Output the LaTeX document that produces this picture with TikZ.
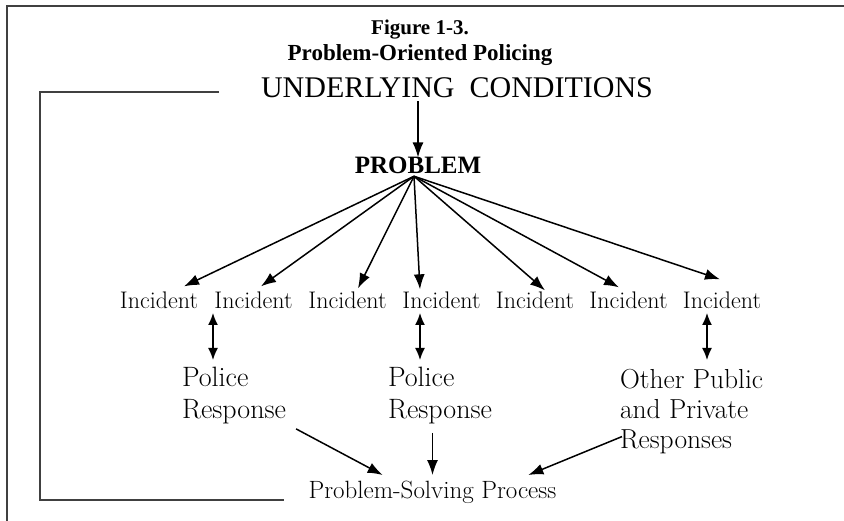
\documentclass[tikz,border=0pt]{standalone}
\usepackage{fontspec}
\newfontfamily\tms{Liberation Serif}
\usetikzlibrary{arrows.meta,calc}
\begin{document}
\begin{tikzpicture}[x=1pt,y=-1pt,
  lbl/.style={inner sep=0pt, outer sep=0pt},
  arr/.style={line width=1.5pt, -{Latex[length=15pt,width=11pt]}},
  darr/.style={line width=1.5pt, {Latex[length=12pt,width=10pt]}-{Latex[length=12pt,width=10pt]}},
  frameline/.style={line width=1.1pt, draw=black!75},
  loopline/.style={line width=1.5pt, draw=black!75},
  inc/.style={lbl, anchor=base, font=\fontsize{24}{28}\selectfont},
  resp/.style={lbl, anchor=north west, align=left, font=\fontsize{28}{32}\selectfont}]
\useasboundingbox (0,0) rectangle (844,521);
\draw[frameline] (7,521) -- (7,6) -- (844,6);
% titles
\node[lbl, anchor=base, font=\tms\bfseries\fontsize{21}{25}\selectfont] (fig) at (420,35) {Figure 1-3.};
\node[lbl, anchor=base, font=\tms\bfseries\fontsize{23}{27}\selectfont] (pop) at (420,61) {Problem-Oriented Policing};
\node[lbl, anchor=base, font=\tms\fontsize{30}{34}\selectfont] (uc) at (457,98) {UNDERLYING\ \ CONDITIONS};
\node[lbl, anchor=base, font=\tms\bfseries\fontsize{25}{30}\selectfont] (prob) at (418,174) {PROBLEM};
% incidents
\node[inc] (inc1) at (159,309) {Incident};
\node[inc] (inc2) at (253.5,309) {Incident};
\node[inc] (inc3) at (347.5,309) {Incident};
\node[inc] (inc4) at (441.5,309) {Incident};
\node[inc] (inc5) at (535,309) {Incident};
\node[inc] (inc6) at (628.5,309) {Incident};
\node[inc] (inc7) at (722,309) {Incident};
% responses
\node[resp] (pr1) at (182,367) {Police\\Response};
\node[resp] (pr2) at (388,367) {Police\\Response};
\node[resp, font=\fontsize{27.5}{30}\selectfont] (oth) at (620,369) {Other Public\\and Private\\Responses};
\node[lbl, anchor=base, font=\fontsize{25}{29}\selectfont] (psp) at (432.5,498) {Problem-Solving Process};
% loop line
\draw[loopline] ($(uc.base west)+(-42,-6)$) -- ++(-179,0) |- ($(psp.base west)+(-25,2)$);
% underlying -> problem
\draw[arr, shorten <=3pt] (uc.south -| prob.north) -- (prob.north);
% fan
\coordinate (fan) at ($(prob.south)+(-4,2)$);
\draw[arr] (fan) -- ($(inc1.north)+(25,-6)$);
\draw[arr] (fan) -- ($(inc2.north)+(7.5,-6)$);
\draw[arr] (fan) -- ($(inc3.north)+(10.5,-4)$);
\draw[arr] (fan) -- ($(inc4.north)+(-21.5,-3)$);
\draw[arr] (fan) -- ($(inc5.north)+(10,-2)$);
\draw[arr] (fan) -- ($(inc6.north)+(-9.5,-5)$);
\draw[arr] (fan) -- ($(inc7.north)+(-2,-13)$);
% incident <-> response
\draw[darr] ($(pr1.north west)+(31,-54)$) -- ($(pr1.north west)+(31,-7)$);
\draw[darr] ($(pr2.north west)+(32,-54)$) -- ($(pr2.north west)+(32,-7)$);
\draw[darr] ($(oth.north west)+(87,-56)$) -- ($(oth.north west)+(87,-9)$);
% responses -> process
\draw[arr] ($(pr1.south east)+(10,5)$) -- ($(psp.north west)+(74,-5.5)$);
\draw[arr] ($(pr2.south -| psp.north)+(0,9)$) -- ($(psp.north)+(0,-5.5)$);
\draw[arr] ($(oth.south west)+(2,-17)$) -- ($(psp.north east)+(-28,-5.5)$);
\end{tikzpicture}
\end{document}
